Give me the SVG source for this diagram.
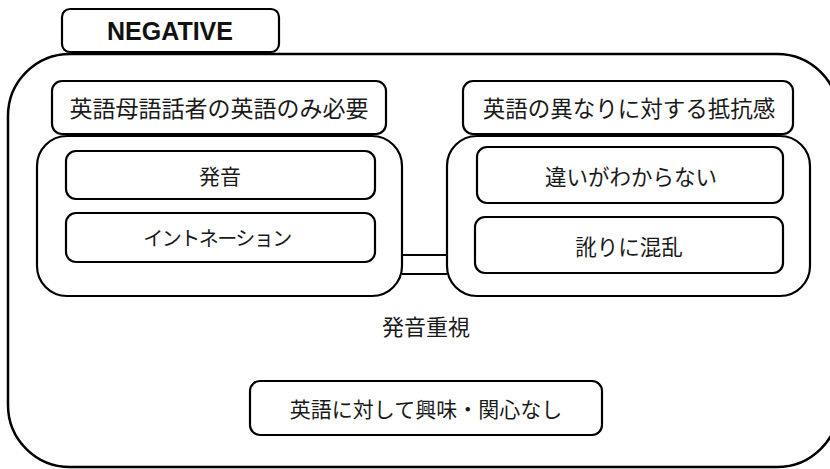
<svg xmlns="http://www.w3.org/2000/svg" width="830" height="469" viewBox="0 0 830 469">
<style>
.b{fill:#fff;stroke:#000;stroke-width:2.2}
.o{fill:none;stroke:#000;stroke-width:2.5}
.t{font-family:"Noto Sans CJK JP","Noto Sans",sans-serif;fill:#1a1a1a;text-anchor:middle;dominant-baseline:central}
.c{stroke:#000;stroke-width:2.2;fill:none}
</style>
<rect x="0" y="0" width="830" height="469" fill="#fff"/>
<g id="outer"><rect class="o" x="8" y="54" width="831" height="413" rx="62"/></g>
<g id="negative"><rect class="b" x="62" y="9" width="217" height="43" rx="8"/><text x="170" y="31" style="font-family:'Liberation Sans',Arial,sans-serif;font-weight:bold;font-size:25px;fill:#111;text-anchor:middle;dominant-baseline:central">NEGATIVE</text></g>
<g id="connectors"><line class="c" x1="402" y1="255" x2="447" y2="255"/><line class="c" x1="402" y1="274" x2="447" y2="274"/></g>
<g id="left-header"><rect class="b" x="52" y="81" width="334" height="53" rx="10"/><text class="t" x="219" y="107" font-size="23">英語母語話者の英語のみ必要</text></g>
<g id="left-group"><rect class="b" x="37" y="136" width="365" height="160" rx="30"/></g>
<g id="hatsuon"><rect class="b" x="66" y="151" width="309" height="48" rx="10"/><text class="t" x="220" y="175" font-size="21">発音</text></g>
<g id="intonation"><rect class="b" x="66" y="213" width="309" height="49" rx="10"/><text class="t" x="217" y="237" font-size="20" letter-spacing="-1.5">イントネーション</text></g>
<g id="right-header"><rect class="b" x="463" y="81" width="330" height="53" rx="10"/><text class="t" x="629" y="107" font-size="22.5">英語の異なりに対する抵抗感</text></g>
<g id="right-group"><rect class="b" x="447" y="136" width="363" height="160" rx="30"/></g>
<g id="chigai"><rect class="b" x="477" y="147" width="306" height="56" rx="10"/><text class="t" x="631" y="175" font-size="21.5">違いがわからない</text></g>
<g id="namari"><rect class="b" x="475" y="217" width="308" height="56" rx="10"/><text class="t" x="629" y="245" font-size="21.5">訛りに混乱</text></g>
<g id="hatsuon-juushi"><text class="t" x="426" y="325" font-size="22">発音重視</text></g>
<g id="kyoumi"><rect class="b" x="250" y="381" width="352" height="54" rx="10"/><text class="t" x="426" y="408" font-size="21">英語に対して興味・関心なし</text></g>
</svg>
